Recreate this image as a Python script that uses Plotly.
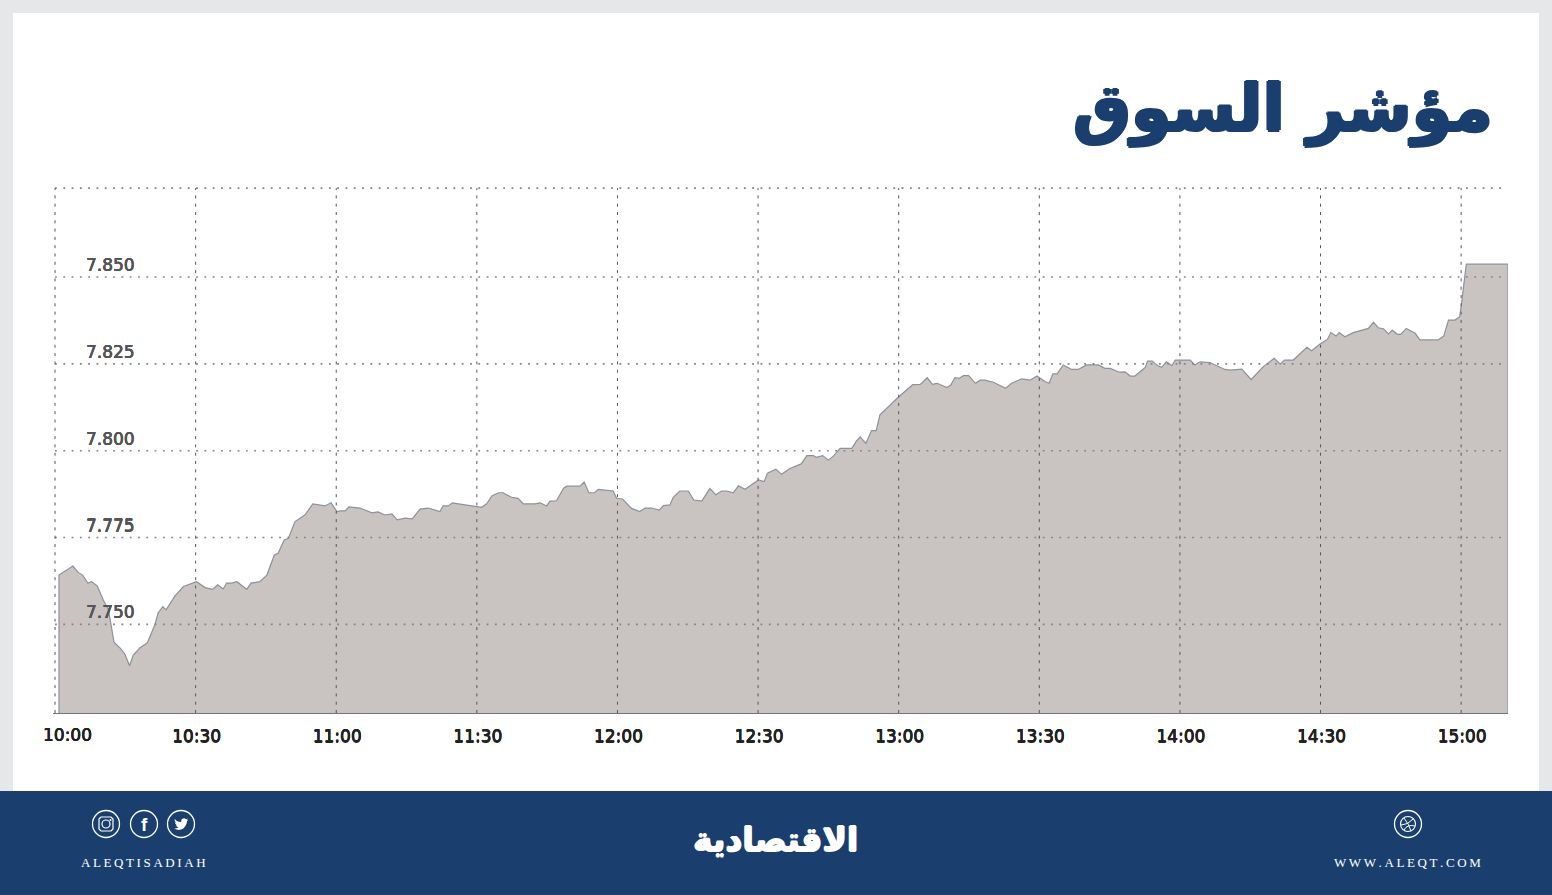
import plotly.graph_objects as go

# minutes after 10:00
minutes = [0.85, 3.8, 5.0, 5.9, 7.0, 7.8, 9.0, 10.3, 11.4, 12.6, 13.9, 14.9, 15.9, 16.7, 18.1, 19.7, 21.3, 22.0, 23.0, 23.7,
           25.6, 27.4, 30.2, 32.0, 33.6, 34.7, 35.9, 36.6, 37.7, 38.8, 40.9, 41.8, 43.7, 45.2, 46.8, 47.6, 48.9, 49.8,
           51.2, 53.3, 55.0, 57.6, 58.9, 60.2, 60.8, 61.9, 62.7, 65.1, 67.6, 68.9, 70.4, 71.9, 73.0, 74.7, 76.2, 77.9, 79.6,
           82.1, 82.8, 83.9, 84.8, 87.5, 89.6, 91.0, 92.1, 93.2, 94.6, 95.6, 97.4, 98.8, 99.9, 102.4, 103.5, 104.9, 105.6,
           107.0, 108.5, 109.2, 112.0, 112.9, 113.9, 115.1, 115.9, 119.1, 119.8, 121.1, 123.0, 124.8, 125.9, 127.3, 128.9,
           129.8, 131.2, 131.9, 133.3, 135.1, 136.3, 138.0, 139.7, 141.0, 142.2, 143.3, 144.7, 145.8, 147.2, 150.1, 151.3,
           152.0, 153.8, 155.0, 156.8, 159.2, 160.4, 161.8, 162.4, 163.8, 165.0, 166.1, 167.5, 170.0, 171.0, 171.8, 173.0,
           174.2, 175.2, 176.0, 179.9, 183.0, 184.6, 186.1, 187.2, 188.2, 190.3, 191.1, 192.0, 192.9, 193.8, 194.9, 196.4,
           197.4, 198.4, 200.2, 202.8, 204.1, 206.2, 208.0, 209.5, 211.2, 212.1, 212.9, 213.8, 215.1, 216.9, 218.3, 220.1,
           222.6, 224.0, 225.1, 227.1, 228.3, 229.4, 230.4, 232.6, 233.1, 234.1, 235.2, 236.1, 237.1, 238.3, 239.0, 242.2,
           243.2, 244.3, 246.4, 249.6, 250.7, 253.2, 255.2, 257.8, 260.1, 261.4, 262.3, 264.2, 267.1, 268.1, 269.9, 271.5,
           272.2, 273.3, 274.0, 275.2, 277.0, 280.2, 281.3, 282.3, 283.4, 284.5, 285.3, 286.4, 287.1, 288.3, 290.2, 291.2,
           295.1, 296.3, 297.3, 298.7, 299.7, 300.1, 301.1, 310.0]

index_values = [7.7642, 7.7668, 7.7649, 7.7642, 7.7619, 7.7623, 7.7611, 7.7570, 7.7542, 7.7448, 7.7432, 7.7415, 7.7381, 7.7412, 7.7432, 7.7447, 7.7499, 7.7533, 7.7551, 7.7542,
                7.7582, 7.7609, 7.7623, 7.7606, 7.7601, 7.7614, 7.7602, 7.7619, 7.7619, 7.7623, 7.7601, 7.7619, 7.7623, 7.7642, 7.7700, 7.7705, 7.7743, 7.7748,
                7.7796, 7.7815, 7.7847, 7.7841, 7.7850, 7.7824, 7.7827, 7.7827, 7.7838, 7.7835, 7.7821, 7.7824, 7.7815, 7.7818, 7.7801, 7.7806, 7.7804, 7.7832, 7.7835,
                7.7825, 7.7841, 7.7841, 7.7850, 7.7844, 7.7841, 7.7837, 7.7847, 7.7870, 7.7879, 7.7879, 7.7866, 7.7863, 7.7847, 7.7847, 7.7850, 7.7841, 7.7855,
                7.7856, 7.7892, 7.7898, 7.7898, 7.7910, 7.7879, 7.7879, 7.7889, 7.7884, 7.7863, 7.7861, 7.7834, 7.7825, 7.7835, 7.7835, 7.7829,
                7.7842, 7.7844, 7.7866, 7.7884, 7.7884, 7.7858, 7.7855, 7.7891, 7.7873, 7.7884, 7.7884, 7.7879, 7.7899, 7.7889, 7.7916, 7.7911,
                7.7935, 7.7947, 7.7932, 7.7949, 7.7962, 7.7986, 7.7986, 7.7981, 7.7986, 7.7973, 7.7985, 7.8007, 7.8007, 7.8028, 7.8040, 7.8021,
                7.8058, 7.8058, 7.8103, 7.8154, 7.8190, 7.8191, 7.8210, 7.8191, 7.8194, 7.8182, 7.8189, 7.8210, 7.8208, 7.8216, 7.8216, 7.8194,
                7.8203, 7.8203, 7.8197, 7.8180, 7.8194, 7.8207, 7.8203, 7.8215, 7.8199, 7.8194, 7.8221, 7.8221, 7.8247, 7.8234, 7.8234, 7.8247,
                7.8247, 7.8237, 7.8237, 7.8226, 7.8227, 7.8215, 7.8215, 7.8240, 7.8258, 7.8258, 7.8245, 7.8240, 7.8256, 7.8245, 7.8261, 7.8261,
                7.8247, 7.8256, 7.8254, 7.8234, 7.8232, 7.8235, 7.8205, 7.8242, 7.8266, 7.8249, 7.8261, 7.8261, 7.8298, 7.8288, 7.8307, 7.8321,
                7.8340, 7.8330, 7.8340, 7.8328, 7.8340, 7.8352, 7.8370, 7.8354, 7.8351, 7.8336, 7.8347, 7.8335, 7.8335, 7.8352, 7.8338, 7.8319,
                7.8319, 7.8330, 7.8376, 7.8376, 7.8386, 7.8425, 7.8537, 7.8537]

time_ticks = [0, 30, 60, 90, 120, 150, 180, 210, 240, 270, 300]
time_labels = ['10:00', '10:30', '11:00', '11:30', '12:00', '12:30', '13:00', '13:30', '14:00', '14:30', '15:00']
value_ticks = [7.75, 7.775, 7.8, 7.825, 7.85]
value_labels = ['7.750', '7.775', '7.800', '7.825', '7.850']

# a little room past the top and left grid lines so they are not clipped in half
x_min, x_max = -0.43, 310
y_min, y_max = 7.7245, 7.8762
grid_top = 7.8756

W, H = 1552, 895
left, right, top, bottom = 53, 1508, 186, 713

NAVY = '#1a3f6f'
WHITE = '#ffffff'


# page pixels to paper fractions, the frame and footer are not data
def px(x):
    return (x - left) / (right - left)


def py(y):
    return (bottom - y) / (bottom - top)


def path_from(points):
    return 'M ' + ' L '.join(f'{px(x)} {py(y)}' for x, y in points) + ' Z'


def thick(color, w):
    # no heavier weight installed, so fatten the glyphs with shadows
    return f'{w}px 0 0 {color}, -{w}px 0 0 {color}, 0 {w}px 0 {color}, 0 -{w}px 0 {color}'


# closed area so the outline also runs down both sides
fig = go.Figure(go.Scatter(
    x=[minutes[0]] + minutes + [minutes[-1]],
    y=[y_min] + index_values + [y_min],
    mode='lines',
    fill='toself',
    fillcolor='#c9c4c1',
    line=dict(color='#8d919b', width=1.2),
    hoverinfo='skip',
))

# panel and footer
fig.add_shape(type='rect', xref='paper', yref='paper', layer='below', line_width=0, fillcolor=WHITE,
              x0=px(13), x1=px(1539), y0=py(791), y1=py(13))
fig.add_shape(type='rect', xref='paper', yref='paper', layer='below', line_width=0, fillcolor=NAVY,
              x0=px(0), x1=px(W), y0=py(H), y1=py(791))

# grid goes over the area in the original
for v in value_ticks + [grid_top]:
    fig.add_shape(type='line', xref='x', yref='y', x0=0, x1=309, y0=v, y1=v,
                  line=dict(color='#838386', width=1.6, dash='1.8px,6.5px'))
for t in time_ticks:
    fig.add_shape(type='line', xref='x', yref='y', x0=t, x1=t, y0=y_min, y1=grid_top,
                  line=dict(color='#55565c', width=1, dash='3px,5.3px'))

# footer icons
for cx in [106, 144, 181, 1408]:
    fig.add_shape(type='circle', xref='paper', yref='paper', line=dict(color=WHITE, width=1.3),
                  x0=px(cx - 13.5), x1=px(cx + 13.5), y0=py(824 + 13.5), y1=py(824 - 13.5))

# instagram
ig = [(99, 819), (101, 817), (111, 817), (113, 819), (113, 829), (111, 831), (101, 831), (99, 829)]
fig.add_shape(type='path', xref='paper', yref='paper', path=path_from(ig), line=dict(color=WHITE, width=1.2))
fig.add_shape(type='circle', xref='paper', yref='paper', line=dict(color=WHITE, width=1.2),
              x0=px(102), x1=px(110), y0=py(828), y1=py(820))
fig.add_shape(type='circle', xref='paper', yref='paper', line_width=0, fillcolor=WHITE,
              x0=px(109.5), x1=px(111.5), y0=py(821), y1=py(819))

# twitter bird
bird = [(23.95, 4.57), (21.13, 5.35), (23.29, 2.62), (20.17, 3.81), (18.5, 2.4), (16.5, 1.9), (13.5, 3.2), (12.3, 5.2),
        (11.78, 8.29), (7.69, 8.1), (4.07, 6.13), (1.64, 3.16), (0.97, 5.64), (3.16, 9.73), (0.93, 9.12), (4.88, 14.0),
        (2.67, 14.09), (7.27, 17.5), (1.17, 19.6), (0, 19.54), (7.56, 21.75), (12, 21), (16, 18.6), (19, 15), (21, 11),
        (21.55, 7.77), (21.54, 7.14)]
fig.add_shape(type='path', xref='paper', yref='paper', line_width=0, fillcolor=WHITE,
              path=path_from([(174 + x * 0.6, 817 + y * 0.6) for x, y in bird]))

# dribbble
fig.add_shape(type='circle', xref='paper', yref='paper', line=dict(color=WHITE, width=1.1),
              x0=px(1400.5), x1=px(1415.5), y0=py(831.5), y1=py(816.5))
for p0, c, p1 in [((1404, 818), (1409, 824), (1411, 831)), ((1401, 825), (1408, 825), (1413, 819)),
                  ((1404, 830), (1407, 824), (1415, 826))]:
    fig.add_shape(type='path', xref='paper', yref='paper', line=dict(color=WHITE, width=1),
                  path=f'M {px(p0[0])} {py(p0[1])} Q {px(c[0])} {py(c[1])} {px(p1[0])} {py(p1[1])}')


def add_text(text, x, y, size, color, family, anchor='center', shadow=None):
    fig.add_annotation(text=text, xref='paper', yref='paper', x=px(x), y=py(y), showarrow=False,
                       xanchor=anchor, yanchor='middle',
                       font=dict(size=size, color=color, family=family, shadow=shadow))


add_text('<b>مؤشر السوق</b>', 1495, 108, 65, NAVY, 'DejaVu Sans', anchor='right', shadow=thick(NAVY, 1.5))
add_text('<b>الاقتصادية</b>', 775, 839, 33, WHITE, 'DejaVu Sans', shadow=thick(WHITE, 0.8))
add_text('<b>f</b>', 144, 824, 19, WHITE, 'Liberation Sans')
add_text('\u2009'.join('ALEQTISADIAH'), 143.5, 862, 13, WHITE, 'Liberation Serif')
add_text('\u2009'.join('WWW.ALEQT.COM'), 1407, 862, 13, WHITE, 'Liberation Serif')

# first time label sits to the right of its gridline, so it is not an axis label
fig.add_annotation(text=time_labels[0], x=time_ticks[0], xref='x', yref='paper', y=py(735), yanchor='middle',
                   xshift=12, showarrow=False,
                   font=dict(size=17, color='#222222', family='DejaVu Sans', shadow=thick('#222222', 0.12)))

fig.update_layout(
    width=W, height=H,
    margin=dict(l=left, r=W - right, t=top, b=H - bottom, pad=0),
    paper_bgcolor='#e6e7e9',
    plot_bgcolor='rgba(0,0,0,0)',
    showlegend=False,
    xaxis=dict(range=[x_min, x_max], tickvals=time_ticks[1:], ticktext=time_labels[1:], showgrid=False, zeroline=False,
               showline=True, linecolor='#6f7480', linewidth=1, ticks='', ticklabelshift=1, ticklabelstandoff=8,
               tickfont=dict(size=17, color='#222222', family='DejaVu Sans', shadow=thick('#222222', 0.12))),
    yaxis=dict(range=[y_min, y_max], tickvals=value_ticks, ticktext=value_labels, showgrid=False, zeroline=False,
               ticks='', ticklabelposition='inside', ticklabelshift=-12, ticklabelstandoff=30,
               tickfont=dict(size=17, color='#555555', family='DejaVu Sans', shadow=thick('#555555', 0.1))),
)

fig.write_html("out.html", post_script="document.body.style.margin='0'", config=dict(displayModeBar=False))
